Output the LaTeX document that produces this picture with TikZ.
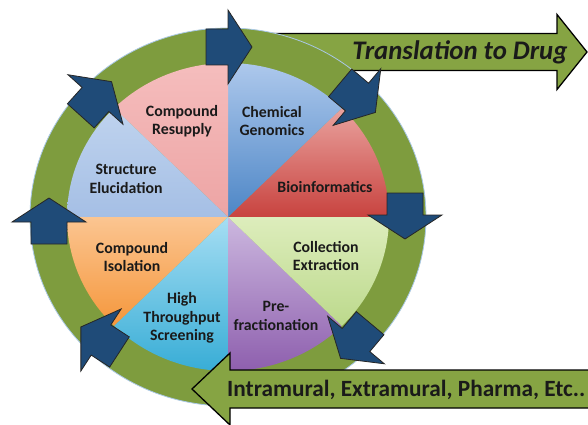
\documentclass[tikz,border=0pt]{standalone}
\usepackage{fontspec}
\setmainfont{Carlito}
\definecolor{ringgreen}{HTML}{7E9C3E}
\definecolor{arrowgreen}{HTML}{86A443}
\definecolor{navy}{HTML}{1F4B78}
\definecolor{txt}{HTML}{1A1A1A}
\definecolor{ringedge}{HTML}{A9C8E6}
\definecolor{bioT}{HTML}{E9A29E}\definecolor{bioB}{HTML}{C8433F}
\definecolor{chemT}{HTML}{ADC8EC}\definecolor{chemB}{HTML}{4D86C6}
\definecolor{resT}{HTML}{F5BDBD}\definecolor{resB}{HTML}{EDA4A4}
\definecolor{strT}{HTML}{BFD3EE}\definecolor{strB}{HTML}{A5BFE5}
\definecolor{isoT}{HTML}{FBC591}\definecolor{isoB}{HTML}{F5973C}
\definecolor{htsT}{HTML}{A6DEF3}\definecolor{htsB}{HTML}{38ADD6}
\definecolor{preT}{HTML}{CCB8DF}\definecolor{preB}{HTML}{8E5FAE}
\definecolor{colT}{HTML}{DDEDBC}\definecolor{colB}{HTML}{BCD98C}
\newcommand\piewedge[4]{\shade[top color=#3, bottom color=#4] (228,207) -- ++(#1:161 and 154) arc[start angle=#1, end angle=#2, x radius=161, y radius=154] -- cycle;}
\begin{document}
\begin{tikzpicture}[x=1pt,y=1pt,
  bigarrow/.style={fill=arrowgreen, draw=black, line width=1.3pt, line join=miter},
  wedgelabel/.style={text=txt, font=\fontsize{15.8}{18.5}\selectfont\bfseries, align=center, inner sep=0pt},
  navystyle/.style={fill=navy, draw=black!85, line width=0.8pt, line join=miter},
  navyarrow/.pic={\draw[navystyle] (-22,-18) -- (0,-18) -- (0,-37) -- (24,0) -- (0,37) -- (0,18) -- (-22,18) -- cycle;}
]
\useasboundingbox (0,0) rectangle (588,424);
\fill[white] (0,0) rectangle (588,424);

% top big arrow (behind ring)
\draw[bigarrow] (265,353.5) -- (557,353.5) -- (557,334.5) -- (587,372) -- (557,409.5) -- (557,390.5) -- (265,390.5) -- cycle;

% ring
\fill[ringgreen] (228,207) ellipse [x radius=198, y radius=189];
\draw[draw=ringedge, line width=0.8pt] (228,207) ellipse [x radius=198, y radius=189];

% pie wedges
\piewedge{0}{45}{bioT}{bioB}
\piewedge{45}{90}{chemT}{chemB}
\piewedge{90}{135}{resT}{resB}
\piewedge{135}{180}{strT}{strB}
\piewedge{180}{225}{isoT}{isoB}
\piewedge{225}{270}{htsT}{htsB}
\piewedge{270}{315}{preT}{preB}
\piewedge{315}{360}{colT}{colB}

% bottom big arrow (over ring)
\draw[bigarrow] (600,16) -- (230,16) -- (230,-1) -- (192,35) -- (230,71) -- (230,54) -- (600,54) -- cycle;

% navy arrows around the ring
\pic[rotate=0] at (228,377) {navyarrow};
\pic[rotate=-40] at (357,327) {navyarrow};
\pic[rotate=-90] at (405,209) {navyarrow};
\pic[rotate=-130] at (356,84) {navyarrow};
\pic[rotate=147] at (101,84) {navyarrow};
\pic[rotate=90] at (49,202) {navyarrow};
\pic[rotate=48] at (95.5,324.5) {navyarrow};

% labels
\node[wedgelabel] (resupply) at (182,303) {Compound\\Resupply};
\node[wedgelabel] (genomics) at (272,303) {Chemical\\Genomics};
\node[wedgelabel] (struct) at (126,245) {Structure\\Elucidation};
\node[wedgelabel] (bioinf) at (325,237) {Bioinformatics};
\node[wedgelabel] (isol) at (132,167) {Compound\\Isolation};
\node[wedgelabel] (hts) at (182,106) {High\\Throughput\\Screening};
\node[wedgelabel] (prefrac) at (276,108) {Pre-\\fractionation};
\node[wedgelabel] (collect) at (326,168) {Collection\\Extraction};

\node[text=txt, font=\fontsize{26.8}{30}\selectfont\bfseries\itshape, inner sep=0pt] (drug) at (460,372) {Translation to Drug};
\node[text=txt, font=\fontsize{23.3}{27}\selectfont\bfseries, inner sep=0pt, anchor=west] (intra) at (227,34) {Intramural, Extramural, Pharma, Etc..};
\end{tikzpicture}
\end{document}
